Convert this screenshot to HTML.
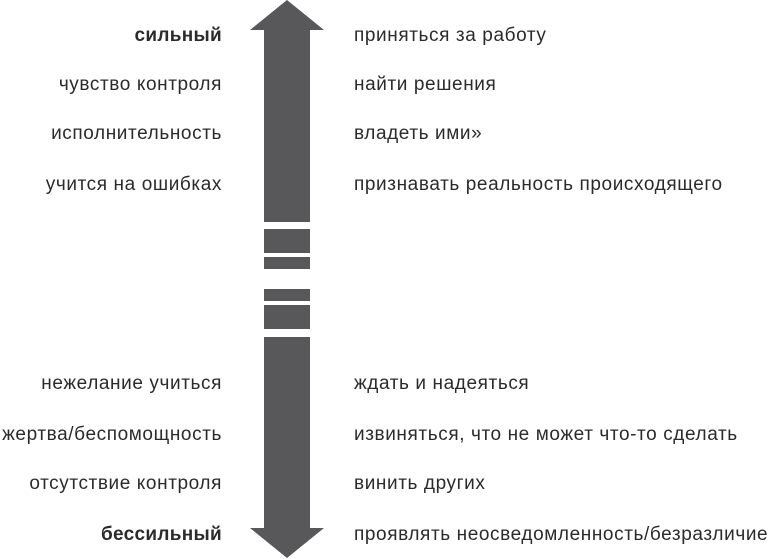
<!DOCTYPE html>
<html><head><meta charset="utf-8"><style>
body{margin:0;width:770px;height:559px;background:#fff;position:relative;overflow:hidden;font-family:"Liberation Sans","DejaVu Sans",sans-serif;color:#2b2b2b;font-size:19px;letter-spacing:0.6px}
.l,.r{position:absolute;white-space:nowrap;line-height:20px}
.l{right:548px;text-align:right}
.r{left:354px}
b{font-weight:bold;letter-spacing:0.3px}
</style></head><body>
<svg width="770" height="559" style="position:absolute;left:0;top:0">
<g fill="#58585a">
<polygon points="287,0 324,30 310,30 310,222 264,222 264,30 250,30"/>
<rect x="264" y="229" width="46" height="24"/>
<rect x="264" y="257" width="46" height="12"/>
<rect x="264" y="289" width="46" height="12"/>
<rect x="264" y="305" width="46" height="24"/>
<polygon points="264,337 310,337 310,528 324,528 287,558 250,528 264,528"/>
</g>
</svg>
<div class="l" style="top:26px"><b>сильный</b></div>
<div class="l" style="top:75px">чувство контроля</div>
<div class="l" style="top:124px">исполнительность</div>
<div class="l" style="top:175px">учится на ошибках</div>
<div class="l" style="top:374px">нежелание учиться</div>
<div class="l" style="top:425px">жертва/беспомощность</div>
<div class="l" style="top:474px">отсутствие контроля</div>
<div class="l" style="top:525px"><b>бессильный</b></div>
<div class="r" style="top:26px">приняться за работу</div>
<div class="r" style="top:75px">найти решения</div>
<div class="r" style="top:124px">владеть ими»</div>
<div class="r" style="top:175px">признавать реальность происходящего</div>
<div class="r" style="top:374px">ждать и надеяться</div>
<div class="r" style="top:425px">извиняться, что не может что-то сделать</div>
<div class="r" style="top:474px">винить других</div>
<div class="r" style="top:525px">проявлять неосведомленность/безразличие</div>
</body></html>
